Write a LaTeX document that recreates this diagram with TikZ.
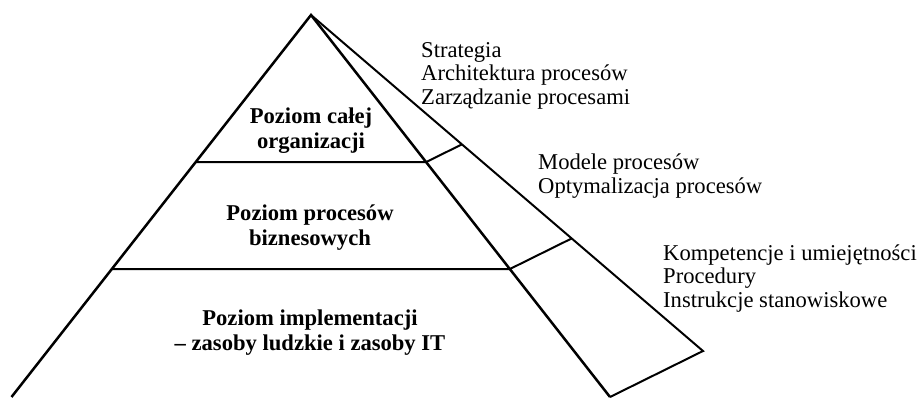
\documentclass[tikz,border=0pt]{standalone}
\usepackage{fontspec}
\setmainfont{Liberation Serif}
\usetikzlibrary{calc}
\begin{document}
\begin{tikzpicture}[x=1pt,y=-1pt,
  edge/.style={line width=2.5pt,line join=miter},
  thin edge/.style={line width=2pt},
  level/.style={font=\bfseries\fontsize{22.6}{24.5}\selectfont,align=center,anchor=base,inner sep=0pt},
  note/.style={font=\fontsize{22.6}{23.5}\selectfont,align=left,anchor=base west,inner sep=0pt}]
  \useasboundingbox (0,0) rectangle (918,397);
  % corners of the pyramid
  \coordinate (apex) at (311,15);
  \coordinate (left) at (11.5,397);
  \coordinate (front) at (610,397);
  \coordinate (back) at (703,351);
  % level boundaries on the front and back edges
  \coordinate (f1) at ($(apex)!0.385!(front)$);
  \coordinate (b1) at ($(apex)!0.385!(back)$);
  \coordinate (l1) at ($(apex)!0.385!(left)$);
  \coordinate (f2) at ($(apex)!0.665!(front)$);
  \coordinate (b2) at ($(apex)!0.665!(back)$);
  \coordinate (l2) at ($(apex)!0.665!(left)$);
  % outline
  \draw[edge] (left) -- (apex) -- (front);
  \draw[thin edge] (apex) -- (back) -- (front);
  % level separators
  \draw[thin edge] (l1) -- (f1) -- (b1);
  \draw[thin edge] (l2) -- (f2) -- (b2);
  % level names (anchored at the baseline of the last line)
  \node[level] (lv1) at (311,148) {Poziom całej\\organizacji};
  \node[level] (lv2) at (310,245) {Poziom procesów\\biznesowych};
  \node[level] (lv3) at (310,350) {Poziom implementacji\\– zasoby ludzkie i zasoby IT};
  % side descriptions
  \node[note] (n1) at (421,104) {Strategia\\Architektura procesów\\Zarządzanie procesami};
  \node[note] (n2) at (538,193) {Modele procesów\\Optymalizacja procesów};
  \node[note] (n3) at (663,307) {Kompetencje i umiejętności\\Procedury\\Instrukcje stanowiskowe};
\end{tikzpicture}
\end{document}
